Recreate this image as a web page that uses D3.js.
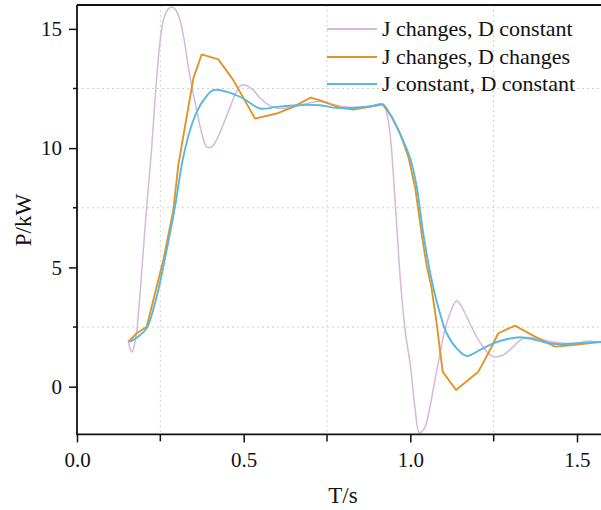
<!DOCTYPE html>
<html><head><meta charset="utf-8">
<script src="https://cdn.jsdelivr.net/npm/d3@7/dist/d3.min.js"></script>
<style>
html,body{margin:0;padding:0;background:#fff;}
svg{display:block;}
</style></head>
<body>
<svg id="chart" width="601" height="510" font-family="Liberation Serif, Times New Roman, serif"></svg>
<script>
// ---- data ----
const seriesNames = ["J changes, D constant", "J changes, D changes", "J constant, D constant"];
const seriesColors = ["#d9b6dd", "#e29428", "#58b8e2"];

const pinkT = [0.154,0.160,0.165,0.172,0.179,0.199,0.209,0.224,0.235,0.247,0.259,0.272,0.284,0.296,0.309,0.322,0.334,0.347,0.359,0.374,0.389,0.404,0.419,0.439,0.459,0.474,0.489,0.504,0.529,0.549,0.569,0.589,0.609,0.649,0.689,0.73,0.77,0.81,0.85,0.89,0.918,0.930,0.940,0.950,0.960,0.970,0.985,1.000,1.014,1.027,1.042,1.059,1.074,1.089,1.104,1.119,1.139,1.154,1.169,1.184,1.199,1.229,1.249,1.279,1.309,1.339,1.379,1.419,1.459,1.499,1.53,1.57,1.61];
const pinkP = [1.96,1.55,1.45,1.75,2.30,5.73,7.54,10.0,12.2,14.2,15.36,15.8,15.92,15.8,15.36,14.5,13.4,12.4,11.6,10.65,10.05,10.05,10.35,11.0,11.7,12.25,12.6,12.65,12.43,12.1,11.87,11.72,11.66,11.73,11.87,11.95,11.82,11.72,11.72,11.78,11.85,11.4,10.5,8.7,6.6,4.5,2.3,0.9,-0.9,-1.93,-1.75,-0.84,0.3,1.4,2.4,3.07,3.6,3.35,2.93,2.5,2.09,1.47,1.26,1.33,1.68,2.03,2.03,1.89,1.82,1.82,1.91,1.86,1.85];

const orangeT = [0.154,0.179,0.209,0.239,0.259,0.289,0.304,0.349,0.374,0.424,0.469,0.534,0.599,0.649,0.701,0.729,0.789,0.829,0.917,0.945,0.970,0.995,1.015,1.035,1.050,1.063,1.079,1.097,1.137,1.204,1.234,1.264,1.314,1.374,1.434,1.489,1.572,1.61];
const orangeP = [1.88,2.24,2.51,4.19,5.31,7.4,9.3,12.92,13.93,13.72,12.85,11.24,11.45,11.73,12.12,12.0,11.7,11.62,11.83,11.3,10.6,9.6,8.3,6.3,5.0,4.2,2.65,0.63,-0.14,0.63,1.4,2.24,2.56,2.1,1.68,1.75,1.88,1.88];

const blueT = [0.159,0.184,0.209,0.239,0.269,0.294,0.319,0.349,0.379,0.409,0.449,0.499,0.549,0.599,0.659,0.729,0.769,0.829,0.880,0.917,0.940,0.969,0.999,1.019,1.039,1.064,1.089,1.109,1.139,1.169,1.209,1.249,1.289,1.329,1.369,1.409,1.449,1.499,1.572,1.61];
const blueP = [1.88,2.1,2.45,3.77,5.73,7.54,9.64,11.17,12.0,12.43,12.36,12.08,11.66,11.73,11.8,11.8,11.7,11.68,11.75,11.83,11.4,10.6,9.6,8.4,6.4,4.47,3.07,2.24,1.61,1.29,1.54,1.82,1.99,2.07,1.99,1.84,1.78,1.82,1.87,1.87];

const xTicks = [0, 0.5, 1.0, 1.5];
const xTickLabels = ["0.0", "0.5", "1.0", "1.5"];
const xMinor = [0.25, 0.75, 1.25];
const yTicks = [0, 5, 10, 15];
const yMinor = [2.5, 7.5, 12.5];
const xTitle = "T/s";
const yTitle = "P/kW";

// ---- layout ----
const FONT = "Liberation Serif, Times New Roman, serif";
const svg = d3.select("#chart");
const L = 77, T = 5, B = 434.4;
const x = d3.scaleLinear().domain([0, 1.6]).range([L, L + 1.6 * 333.33]);
const y = d3.scaleLinear().domain([-2, 16]).range([B, T]);
const R = x(1.6);

svg.append("defs").append("clipPath").attr("id", "clip")
  .append("rect").attr("x", L).attr("y", T).attr("width", R - L).attr("height", B - T);

// grid
const grid = svg.append("g");
grid.selectAll("line.gx").data(xMinor).enter().append("line")
  .attr("x1", d => x(d)).attr("x2", d => x(d)).attr("y1", T).attr("y2", B)
  .attr("stroke", "#cfcfcf").attr("stroke-width", 1).attr("stroke-dasharray", "2,3");
grid.selectAll("line.gy").data(yMinor).enter().append("line")
  .attr("x1", L).attr("x2", R).attr("y1", d => y(d)).attr("y2", d => y(d))
  .attr("stroke", "#cfcfcf").attr("stroke-width", 1).attr("stroke-dasharray", "2,3");

// lines
const lineGen = (curve) => d3.line().x(d => x(d[0])).y(d => y(d[1])).curve(curve);
const series = [
  {t: pinkT, p: pinkP, curve: d3.curveCatmullRom.alpha(0.5), w: 1.5},
  {t: orangeT, p: orangeP, curve: d3.curveLinear, w: 1.9},
  {t: blueT, p: blueP, curve: d3.curveCatmullRom.alpha(0.5), w: 1.9}
];
const plot = svg.append("g").attr("clip-path", "url(#clip)");
series.forEach((s, i) => {
  const pts = s.t.map((t, k) => [t, s.p[k]]);
  plot.append("path").attr("d", lineGen(s.curve)(pts))
    .attr("fill", "none").attr("stroke", seriesColors[i]).attr("stroke-width", s.w)
    .attr("stroke-linejoin", "round");
});

// axes
const xAxis = d3.axisBottom(x).tickValues(xTicks).tickFormat((d, i) => xTickLabels[i]).tickSize(8).tickSizeOuter(0);
const gx = svg.append("g").attr("transform", `translate(0,${B})`).call(xAxis)
  .attr("font-family", FONT).attr("font-size", 21);
gx.select(".domain").remove();
gx.selectAll(".tick line").attr("stroke", "#111").attr("stroke-width", 1.5);
gx.selectAll(".tick text").attr("y", 33).attr("dy", "0").attr("fill", "#111");
svg.append("g").selectAll("line").data(xMinor).enter().append("line")
  .attr("x1", d => x(d)).attr("x2", d => x(d)).attr("y1", B).attr("y2", B + 7)
  .attr("stroke", "#111").attr("stroke-width", 1.5);

const yAxis = d3.axisLeft(y).tickValues(yTicks).tickFormat(d3.format("d")).tickSize(8).tickSizeOuter(0);
const gy = svg.append("g").attr("transform", `translate(${L},0)`).call(yAxis)
  .attr("font-family", FONT).attr("font-size", 21);
gy.select(".domain").remove();
gy.selectAll(".tick line").attr("stroke", "#111").attr("stroke-width", 1.5);
gy.selectAll(".tick text").attr("x", -15).attr("fill", "#111");
svg.append("g").selectAll("line").data(yMinor).enter().append("line")
  .attr("x1", L - 4).attr("x2", L).attr("y1", d => y(d)).attr("y2", d => y(d))
  .attr("stroke", "#111").attr("stroke-width", 1.5);

// frame
svg.append("line").attr("x1", L).attr("x2", L).attr("y1", T).attr("y2", B + 0.8)
  .attr("stroke", "#111").attr("stroke-width", 1.8);
svg.append("line").attr("x1", L).attr("x2", R).attr("y1", B).attr("y2", B)
  .attr("stroke", "#111").attr("stroke-width", 1.8);
svg.append("line").attr("x1", L).attr("x2", R).attr("y1", T).attr("y2", T)
  .attr("stroke", "#111").attr("stroke-width", 1.8);
svg.append("line").attr("x1", R).attr("x2", R).attr("y1", T).attr("y2", B)
  .attr("stroke", "#111").attr("stroke-width", 1.8);

// titles
svg.append("text").attr("x", 343).attr("y", 503).attr("text-anchor", "middle")
  .attr("font-family", FONT).attr("font-size", 23).attr("fill", "#111").text(xTitle);
svg.append("text").attr("transform", "translate(31,220) rotate(-90)").attr("text-anchor", "middle")
  .attr("font-family", FONT).attr("font-size", 23).attr("fill", "#111").text(yTitle);

// legend
const legY = [29, 57, 84];
const leg = svg.append("g");
seriesNames.forEach((n, i) => {
  leg.append("line").attr("x1", 327).attr("x2", 377).attr("y1", legY[i]).attr("y2", legY[i])
    .attr("stroke", seriesColors[i]).attr("stroke-width", 2);
  leg.append("text").attr("x", 382).attr("y", legY[i]).attr("dy", "0.33em")
    .attr("font-family", FONT).attr("font-size", 22).attr("fill", "#111").text(n);
});
</script>
</body></html>
